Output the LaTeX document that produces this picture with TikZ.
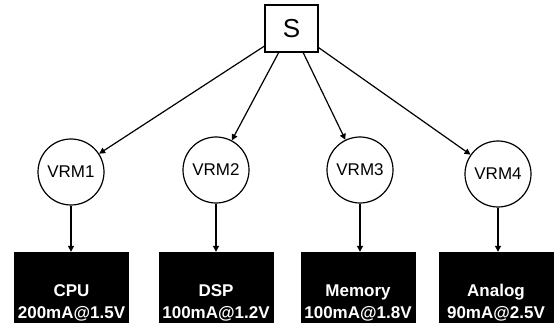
\documentclass[tikz,border=0pt]{standalone}
\usepackage{fontspec}
\setmainfont{Liberation Sans}
\usetikzlibrary{arrows.meta}
\begin{document}
\begin{tikzpicture}[x=1pt,y=-1pt,
  src/.style={draw,line width=1.2pt,rectangle,minimum width=53pt,minimum height=47pt,inner sep=0pt,font=\fontsize{26}{28}\selectfont},
  vrm/.style={draw,line width=1.2pt,circle,minimum size=66pt,inner sep=0pt,font=\fontsize{17}{20}\selectfont},
  load/.style={fill=black,text=white,rectangle,minimum width=115pt,minimum height=102pt,inner sep=0pt,align=center,font=\bfseries\fontsize{17}{21.5}\selectfont},
  feed/.style={line width=1.2pt,-{Triangle[length=6pt,width=6pt]}}]
\useasboundingbox (0,0) rectangle (557,323);
\node[src] (s) at (291.5,28.5) {S};
\node[vrm] (v1) at (71,172) {VRM1};
\node[vrm] (v2) at (216,170) {VRM2};
\node[vrm] (v3) at (360,170) {VRM3};
\node[vrm] (v4) at (498,174) {VRM4};
\node[load] (l1) at (71.5,303) {\strut CPU\\\strut 200mA@1.5V};
\node[load] (l2) at (216,303) {\strut DSP\\\strut 100mA@1.2V};
\node[load] (l3) at (358,303) {\strut Memory\\\strut 100mA@1.8V};
\node[load] (l4) at (496,303) {\strut Analog\\\strut 90mA@2.5V};
\foreach \i in {1,...,4} {
  \draw[feed] (s) -- (v\i);
}
\draw[feed] (v1) -- (v1 |- l1.north);
\draw[feed] (v2) -- (v2 |- l2.north);
\draw[feed] (v3.south) -- (v3.south |- l3.north);
\draw[feed] (v4) -- (v4 |- l4.north);
\end{tikzpicture}
\end{document}
